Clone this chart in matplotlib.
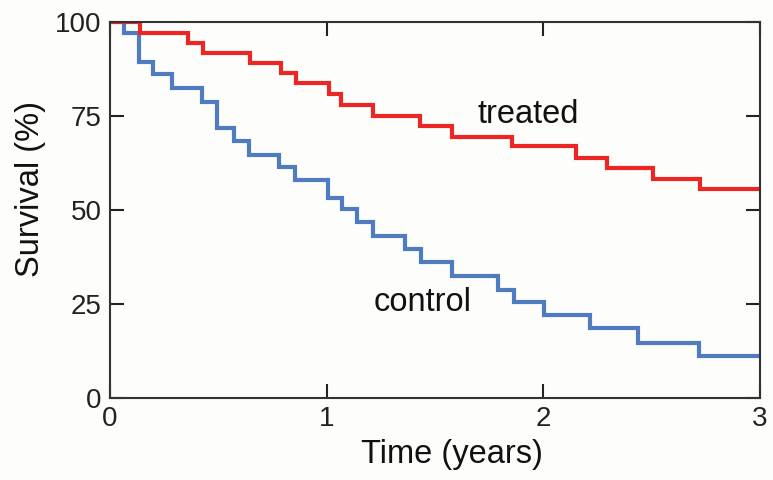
import matplotlib
matplotlib.use("Agg")
import matplotlib.pyplot as plt

plt.rcParams['font.family'] = ['Liberation Sans', 'DejaVu Sans']

treated_t = [0, 0.14, 0.36, 0.43, 0.646, 0.79, 0.86, 1.01, 1.065, 1.215, 1.43,
             1.58, 1.857, 2.149, 2.295, 2.507, 2.723, 3.0]
treated_s = [100, 97.2, 94.3, 91.7, 89.2, 86.4, 83.7, 80.8, 77.9, 75.1, 72.4,
             69.5, 67.0, 63.9, 61.2, 58.2, 55.6, 55.6]

control_t = [0, 0.065, 0.135, 0.20, 0.288, 0.426, 0.492, 0.572, 0.643, 0.781,
             0.854, 1.005, 1.072, 1.141, 1.215, 1.361, 1.434, 1.577, 1.789,
             1.864, 2.003, 2.218, 2.438, 2.72, 3.0]
control_s = [100, 97.0, 89.3, 86.2, 82.5, 78.6, 71.7, 68.4, 64.6, 61.4,
             58.0, 53.1, 50.3, 46.7, 43.2, 39.6, 36.1, 32.5, 28.7,
             25.6, 22.1, 18.5, 14.7, 11.2, 11.2]

x_ticks = [0, 1, 2, 3]
y_ticks = [0, 25, 50, 75, 100]

fig = plt.figure(figsize=(7.73, 4.8), dpi=100)
fig.patch.set_facecolor('#fdfdfb')
ax = fig.add_axes([0.1423, 0.1708, 0.8407, 0.7834])
ax.set_facecolor('#fdfdfb')

ax.plot(control_t, control_s, drawstyle='steps-post', color='#4f7cc0', lw=3.0,
        solid_joinstyle='miter')
ax.plot(treated_t, treated_s, drawstyle='steps-post', color='#ec2624', lw=3.0,
        solid_joinstyle='miter')

ax.set_xlim(0, 3)
ax.set_ylim(0, 100)
ax.set_xticks(x_ticks)
ax.set_yticks(y_ticks)
ax.set_xticklabels([str(v) for v in x_ticks])
ax.set_yticklabels([str(v) for v in y_ticks])
ax.tick_params(direction='in', length=10, width=1.5, top=True, right=True,
               labelsize=20, colors='#222222', pad=6)
for sp in ax.spines.values():
    sp.set_linewidth(1.5)
    sp.set_color('#333333')

ax.set_xlabel('Time (years)', fontsize=23.5, color='#111111')
ax.xaxis.set_label_coords(0.526, -0.11, transform=ax.transAxes)
ax.xaxis.label.set_va('top')
ax.set_ylabel('Survival (%)', fontsize=23.5, color='#111111')
ax.yaxis.set_label_coords(-0.122, 0.556, transform=ax.transAxes)
ax.yaxis.label.set_va('center')

ax.text(1.93, 75.5, 'treated', fontsize=23.5, ha='center', va='center', color='#111111')
ax.text(1.445, 25.4, 'control', fontsize=23.5, ha='center', va='center', color='#111111')

fig.savefig('out.png', dpi=100, facecolor=fig.get_facecolor())
